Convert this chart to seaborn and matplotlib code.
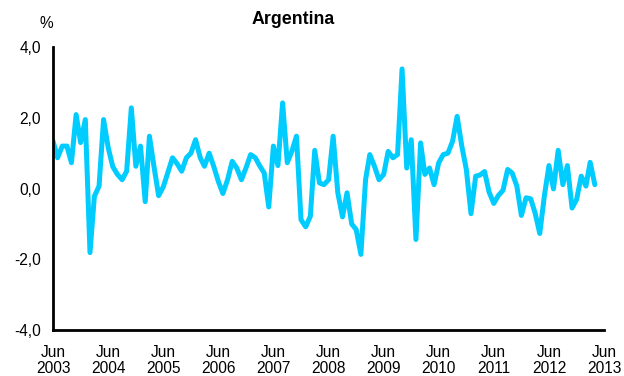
import matplotlib
matplotlib.use("Agg")
import matplotlib.pyplot as plt
import seaborn as sns
import pandas as pd

# Monthly inflation, % change on previous month, from June 2003
start_month = "2003-06-01"
monthly_change = [
    1.34, 0.87, 1.20, 1.20, 0.73, 2.09, 1.30, 1.95, -1.81, -0.22,
    0.07, 1.95, 1.15, 0.62, 0.40, 0.25, 0.49, 2.28, 0.63, 1.20,
    -0.37, 1.48, 0.60, -0.20, 0.05, 0.45, 0.87, 0.70, 0.49, 0.87,
    1.00, 1.38, 0.87, 0.63, 1.00, 0.63, 0.20, -0.14, 0.25, 0.77,
    0.58, 0.25, 0.58, 0.96, 0.87, 0.65, 0.44, -0.52, 1.20, 0.65,
    2.42, 0.73, 1.05, 1.48, -0.88, -1.08, -0.78, 1.08, 0.16, 0.11,
    0.25, 1.48, -0.12, -0.80, -0.12, -1.00, -1.16, -1.86, 0.25, 0.96,
    0.63, 0.25, 0.40, 1.05, 0.87, 0.96, 3.38, 0.58, 1.38, -1.44,
    1.29, 0.40, 0.58, 0.11, 0.73, 0.96, 1.00, 1.34, 2.04, 1.20,
    0.54, -0.71, 0.35, 0.38, 0.48, -0.10, -0.42, -0.20, -0.05, 0.54,
    0.44, 0.07, -0.76, -0.26, -0.29, -0.69, -1.27, -0.22, 0.65, -0.01,
    1.08, 0.11, 0.65, -0.55, -0.31, 0.35, 0.07, 0.74, 0.11,
]
y_ticks = [-4.0, -2.0, 0.0, 2.0, 4.0]
tick_years = list(range(2003, 2014))

sns.set_theme(style="white")
plt.rcParams["font.family"] = ["Liberation Sans", "DejaVu Sans"]

df = pd.DataFrame({
    "month": pd.date_range(start_month, periods=len(monthly_change), freq="MS"),
    "change": monthly_change,
})

fig = plt.figure(figsize=(6.24, 3.76), dpi=100)
ax = fig.add_axes([0.085, 0.122, 0.883, 0.753])

sns.lineplot(data=df, x="month", y="change", ax=ax, color="#00CCFF",
             linewidth=3.6, solid_joinstyle="round", solid_capstyle="round")

ax.set_xlim(pd.Timestamp("2003-06-01"), pd.Timestamp("2013-06-01"))
ax.set_ylim(-4.0, 4.0)

tick_font = 11.2
tick_dates = [pd.Timestamp(f"{y}-06-01") for y in tick_years]
ax.set_xticks(tick_dates)
ax.set_xticklabels([f"Jun\n{y}" for y in tick_years], fontsize=tick_font,
                   linespacing=1.12)
ax.set_yticks(y_ticks)
ax.set_yticklabels([f"{v:.1f}".replace(".", ",") for v in y_ticks],
                   fontsize=tick_font)

ax.set_xlabel("")
ax.set_ylabel("")
ax.grid(False)
for side in ("top", "right"):
    ax.spines[side].set_visible(False)
for side in ("left", "bottom"):
    ax.spines[side].set_color("black")
    ax.spines[side].set_linewidth(2.0)

ax.tick_params(axis="both", which="major", direction="out", length=3.6,
               width=2.0, color="black", labelcolor="black")
ax.tick_params(axis="y", pad=5)
ax.tick_params(axis="x", pad=7)

fig.text(0.470, 0.947, "Argentina", ha="center", va="center",
         fontsize=12.8, fontweight="bold", color="black")
fig.text(0.074, 0.937, "%", ha="center", va="center", fontsize=tick_font,
         color="black")

fig.savefig("out.png", dpi=100, facecolor="white")
